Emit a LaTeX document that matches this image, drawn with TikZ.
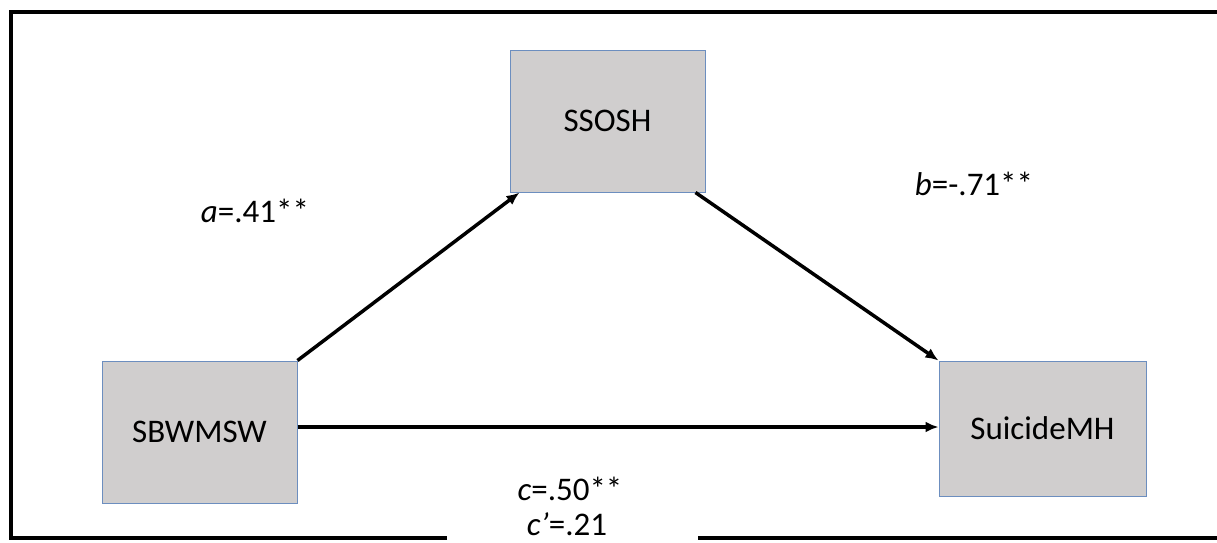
\documentclass[tikz,border=0pt]{standalone}
\usepackage{fontspec}
\setmainfont{Carlito}
\usetikzlibrary{arrows.meta}
\definecolor{boxfill}{HTML}{D0CECE}
\definecolor{boxline}{HTML}{6C8EBF}
\tikzset{
  varbox/.style={draw=boxline, line width=1pt, fill=boxfill, inner sep=0pt, font=\fontsize{33}{37}\selectfont},
  pathline/.style={line width=3.5pt, -{Latex[length=13pt,width=11pt]}},
  coef/.style={anchor=base, inner sep=0pt, font=\fontsize{33}{37}\selectfont},
  frame/.style={line width=3.5pt}
}
\begin{document}
\begin{tikzpicture}[x=1pt,y=-1pt]
\useasboundingbox (0,0) rectangle (1217,542);
% frame
\draw[frame] (447,538) -- (11,538) -- (11,12) -- (1220,12);
\draw[frame] (698,538) -- (1220,538);
% boxes
\node[varbox, minimum width=195pt, minimum height=142pt] (x) at (199.5,432) {SBWMSW};
\node[varbox, minimum width=195pt, minimum height=142pt] (m) at (607.5,121) {SSOSH};
\node[varbox, minimum width=207pt, minimum height=135pt] (y) at (1042.5,428.5) {SuicideMH};
% arrows
\draw[pathline] (x.north east) -- ([xshift=10pt]m.south west);
\draw[pathline] ([xshift=-10pt]m.south east) -- (y.north west);
\draw[pathline] (x.east |- 0,427) -- (y.west |- 0,427);
% coefficients
\node[coef] (la) at (255,222) {\textit{a}=.41**};
\node[coef] (lb) at (974,195) {\textit{b}=-.71**};
\node[coef] (lc) at (570,500) {\textit{c}=.50**};
\node[coef] (lc2) at (567,535) {\textit{c’}=.21};
\end{tikzpicture}
\end{document}
